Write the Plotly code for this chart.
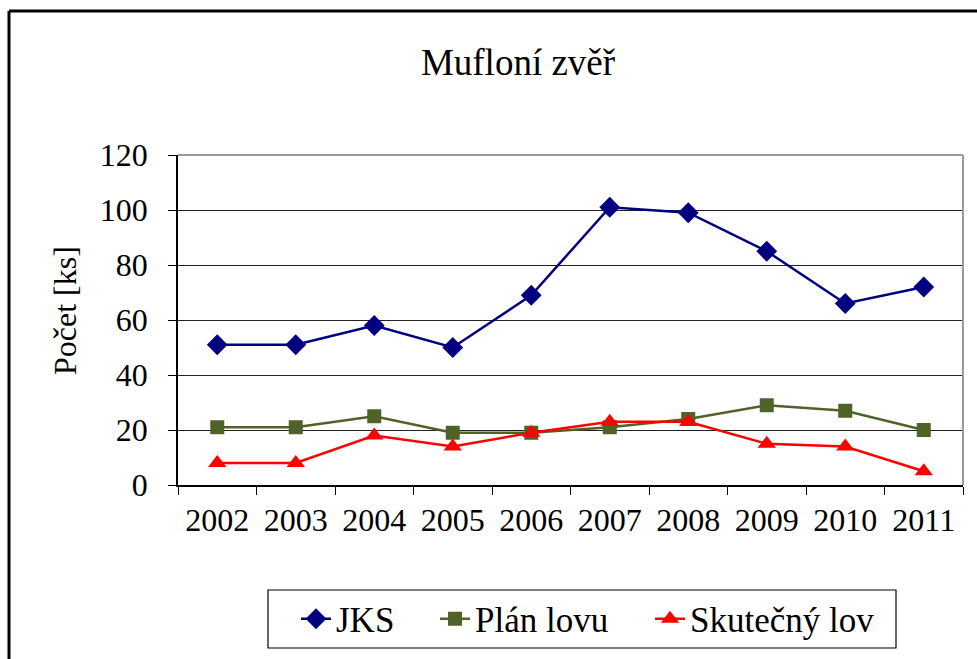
import plotly.graph_objects as go

years = ["2002", "2003", "2004", "2005", "2006", "2007", "2008", "2009", "2010", "2011"]
jks = [51, 51, 58, 50, 69, 101, 99, 85, 66, 72]
plan_lovu = [21, 21, 25, 19, 19, 21, 24, 29, 27, 20]
skutecny_lov = [8, 8, 18, 14, 19, 23, 23, 15, 14, 5]
y_ticks = [0, 20, 40, 60, 80, 100, 120]

W, H = 977, 659
L, R, T, B = 178, 14, 155, 174
pw, ph = W - L - R, H - T - B

def px(x):
    return (x - L) / pw

def py(y):
    return (H - B - y) / ph

font = "'Liberation Serif', 'Times New Roman', serif"

fig = go.Figure()
fig.add_trace(go.Scatter(x=years, y=jks, name="JKS", mode="lines+markers", legend="legend",
                         line=dict(color="#000080", width=2.5),
                         marker=dict(symbol="diamond", size=16, color="#000080")))
fig.add_trace(go.Scatter(x=years, y=plan_lovu, name="Plán lovu", mode="lines+markers", legend="legend2",
                         line=dict(color="#4F6228", width=2.5),
                         marker=dict(symbol="square", size=14, color="#4F6228")))
fig.add_trace(go.Scatter(x=years, y=skutecny_lov, name="Skutečný lov", mode="lines+markers", legend="legend3",
                         line=dict(color="#FF0000", width=2.5),
                         marker=dict(symbol="triangle-up", size=16, color="#FF0000")))

leg_common = dict(orientation="h", xanchor="left", y=py(619), yanchor="middle",
                  borderwidth=0, bgcolor="rgba(0,0,0,0)",
                  font=dict(family=font, size=35, color="black"))

fig.update_layout(
    width=W, height=H,
    margin=dict(l=L, r=R, t=T, b=B, autoexpand=False),
    paper_bgcolor="white", plot_bgcolor="white",
    font=dict(family=font, color="black", size=32),
    title=dict(text="Mufloní zvěř", xref="container", yref="container",
               x=518 / W, xanchor="center", y=1 - 62 / H, yanchor="middle",
               font=dict(family=font, size=37, color="black")),
    showlegend=True,
    legend=dict(x=px(296), **leg_common),
    legend2=dict(x=px(435), **leg_common),
    legend3=dict(x=px(650), **leg_common),
    xaxis=dict(type="category", showline=True, linecolor="black", linewidth=1.5,
               ticks="outside", ticklen=8, tickcolor="black", tickson="boundaries",
               showgrid=False, ticklabelstandoff=6, range=[-0.5, 9.5],
               tickfont=dict(family=font, size=32, color="black")),
    yaxis=dict(range=[0, 120], tickvals=y_ticks, showline=True, linecolor="black", linewidth=1.5,
               ticks="outside", ticklen=8, tickcolor="black",
               showgrid=True, gridcolor="#222222", gridwidth=1, zeroline=False,
               ticklabelstandoff=14,
               tickfont=dict(family=font, size=32, color="black")),
    annotations=[
        dict(text="Počet [ks]", xref="paper", yref="paper", x=px(65), y=py(311),
             xanchor="center", yanchor="middle", textangle=-90, showarrow=False,
             font=dict(family=font, size=32, color="black")),
    ],
    shapes=[
        dict(type="line", xref="paper", yref="paper", x0=0, x1=1, y0=1, y1=1,
             line=dict(color="#999999", width=2), layer="above"),
        dict(type="line", xref="paper", yref="paper", x0=1, x1=1, y0=0, y1=1,
             line=dict(color="#999999", width=2), layer="above"),
        dict(type="line", xref="paper", yref="paper", x0=px(9), x1=px(9), y0=py(11), y1=py(H + 10),
             line=dict(color="black", width=3)),
        dict(type="line", xref="paper", yref="paper", x0=px(9), x1=px(W + 10), y0=py(11), y1=py(11),
             line=dict(color="black", width=3)),
        dict(type="rect", xref="paper", yref="paper", x0=px(268), x1=px(896), y0=py(590), y1=py(648),
             line=dict(color="black", width=1.2), fillcolor="white", layer="below"),
    ],
)

fig.write_html("out.html", config={"displayModeBar": False},
               post_script="document.body.style.margin='0';document.body.style.overflow='hidden';")
